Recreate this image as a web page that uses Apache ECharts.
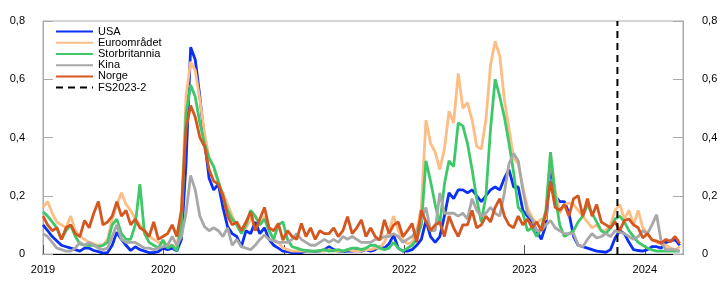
<!DOCTYPE html>
<html>
<head>
<meta charset="utf-8">
<script src="https://cdn.jsdelivr.net/npm/echarts@6/dist/echarts.min.js"></script>
<style>
html,body{margin:0;padding:0;background:#fff;}
#chart{width:722px;height:287px;}
</style>
</head>
<body>
<div id="chart"></div>
<script>
// Biweekly observations starting 2019-01-01
const startDate = [2019, 0, 1];
const stepDays = 14;
const fsDate = [2023, 9, 10];
const seriesNames = ['USA', 'Euroområdet', 'Storbritannia', 'Kina', 'Norge'];
const yTicks = [0, 0.2, 0.4, 0.6, 0.8];

const usa = [
0.10,0.08,0.06,0.045,0.03,0.025,0.02,0.015,0.01,0.02,0.02,0.012,0.008,0.003,0.005,0.03,0.075,0.05,0.03,0.012,0.025,0.015,0.01,0.005,0.005,0.008,
0.02,0.015,0.02,0.01,0.05,0.31,0.71,0.667,0.54,0.39,0.26,0.22,0.24,0.16,0.094,0.07,0.06,0.025,0.08,0.07,0.11,0.07,0.09,0.05,0.03,0.02,
0.01,0.008,0.005,0.004,0.005,0.01,0.01,0.008,0.01,0.015,0.025,0.015,0.01,0.008,0.01,0.01,0.012,0.01,0.015,0.01,0.015,0.025,0.02,0.035,0.065,0.02,
0.01,0.01,0.015,0.03,0.05,0.115,0.06,0.04,0.06,0.13,0.21,0.19,0.22,0.22,0.21,0.22,0.20,0.18,0.20,0.22,0.23,0.22,0.26,0.29,0.23,0.23,
0.15,0.13,0.11,0.08,0.05,0.10,0.31,0.20,0.18,0.18,0.14,0.06,0.03,0.025,0.02,0.015,0.01,0.008,0.006,0.015,0.055,0.08,0.07,0.04,0.015,0.012,
0.01,0.015,0.025,0.025,0.02,0.04,0.045,0.05,0.03
];
const euro = [
0.16,0.18,0.14,0.11,0.10,0.09,0.13,0.08,0.06,0.05,0.04,0.035,0.03,0.03,0.05,0.12,0.17,0.21,0.17,0.15,0.12,0.10,0.08,0.06,0.05,0.04,
0.037,0.03,0.03,0.02,0.15,0.54,0.66,0.63,0.53,0.415,0.33,0.30,0.24,0.21,0.17,0.13,0.10,0.08,0.09,0.12,0.13,0.10,0.13,0.08,0.05,0.04,
0.02,0.015,0.01,0.01,0.01,0.01,0.01,0.01,0.01,0.01,0.015,0.01,0.01,0.01,0.015,0.012,0.01,0.012,0.015,0.015,0.02,0.02,0.04,0.08,0.13,0.08,
0.05,0.035,0.04,0.08,0.16,0.46,0.38,0.35,0.29,0.36,0.49,0.45,0.62,0.50,0.52,0.46,0.37,0.36,0.46,0.65,0.73,0.68,0.53,0.43,0.33,0.31,
0.23,0.16,0.125,0.105,0.12,0.12,0.34,0.22,0.14,0.17,0.175,0.17,0.15,0.13,0.11,0.09,0.10,0.08,0.08,0.10,0.15,0.17,0.12,0.15,0.10,0.15,
0.09,0.07,0.05,0.04,0.035,0.03,0.02,0.014,0.025
];
const uk = [
0.145,0.13,0.11,0.09,0.05,0.08,0.10,0.06,0.035,0.03,0.03,0.03,0.025,0.03,0.04,0.10,0.12,0.07,0.05,0.05,0.10,0.24,0.07,0.04,0.03,0.02,
0.048,0.02,0.03,0.01,0.10,0.48,0.58,0.54,0.45,0.38,0.33,0.30,0.25,0.20,0.15,0.12,0.10,0.07,0.10,0.15,0.13,0.10,0.12,0.08,0.05,0.10,
0.11,0.05,0.025,0.02,0.015,0.012,0.01,0.01,0.012,0.015,0.01,0.012,0.015,0.01,0.015,0.02,0.02,0.015,0.02,0.03,0.03,0.02,0.015,0.02,0.04,0.02,
0.01,0.02,0.03,0.05,0.10,0.32,0.25,0.17,0.10,0.24,0.32,0.30,0.45,0.44,0.38,0.29,0.19,0.11,0.20,0.43,0.60,0.54,0.47,0.38,0.28,0.16,
0.14,0.08,0.09,0.06,0.09,0.15,0.35,0.20,0.10,0.06,0.07,0.08,0.11,0.13,0.17,0.14,0.11,0.08,0.07,0.09,0.12,0.13,0.11,0.08,0.06,0.04,
0.03,0.02,0.014,0.01,0.01,0.01,0.01,0.01,0.01
];
const china = [
0.07,0.06,0.04,0.02,0.015,0.01,0.01,0.02,0.04,0.03,0.04,0.03,0.02,0.015,0.02,0.06,0.10,0.05,0.04,0.04,0.04,0.03,0.02,0.02,0.015,0.02,
0.025,0.03,0.06,0.03,0.06,0.14,0.27,0.22,0.13,0.094,0.08,0.09,0.08,0.06,0.09,0.03,0.05,0.025,0.02,0.015,0.03,0.05,0.065,0.05,0.045,0.04,
0.04,0.04,0.05,0.07,0.05,0.04,0.03,0.03,0.04,0.05,0.04,0.05,0.04,0.06,0.05,0.06,0.05,0.04,0.04,0.04,0.05,0.05,0.06,0.06,0.07,0.06,
0.04,0.05,0.06,0.08,0.12,0.16,0.08,0.08,0.21,0.14,0.14,0.14,0.13,0.14,0.12,0.19,0.15,0.13,0.14,0.16,0.14,0.13,0.21,0.31,0.345,0.32,
0.22,0.14,0.12,0.08,0.08,0.10,0.115,0.09,0.08,0.07,0.07,0.07,0.03,0.025,0.05,0.07,0.055,0.06,0.07,0.06,0.08,0.075,0.07,0.06,0.05,0.06,
0.08,0.07,0.10,0.135,0.04,0.015,0.015,0.015,0.01
];
const norway = [
0.13,0.10,0.08,0.09,0.05,0.09,0.10,0.07,0.06,0.115,0.09,0.14,0.18,0.10,0.11,0.13,0.18,0.13,0.15,0.10,0.12,0.09,0.08,0.06,0.11,0.05,
0.06,0.07,0.10,0.06,0.15,0.43,0.51,0.47,0.40,0.37,0.29,0.25,0.24,0.20,0.13,0.10,0.11,0.08,0.11,0.145,0.08,0.12,0.16,0.09,0.08,0.105,
0.048,0.08,0.06,0.05,0.105,0.06,0.09,0.05,0.08,0.07,0.07,0.09,0.06,0.08,0.128,0.07,0.09,0.117,0.06,0.09,0.06,0.048,0.117,0.07,0.10,0.11,
0.06,0.08,0.105,0.04,0.15,0.11,0.08,0.10,0.11,0.06,0.13,0.09,0.06,0.10,0.10,0.15,0.09,0.10,0.13,0.11,0.16,0.19,0.13,0.10,0.09,0.13,
0.10,0.12,0.09,0.11,0.08,0.14,0.25,0.16,0.15,0.17,0.13,0.19,0.20,0.13,0.19,0.13,0.17,0.11,0.10,0.09,0.11,0.08,0.115,0.12,0.10,0.09,
0.055,0.07,0.048,0.045,0.037,0.05,0.042,0.06,0.037
];

const colors = ['#0a2ff5', '#fdbd84', '#3ec86a', '#a8a8a8', '#d5561f'];
const allValues = [usa, euro, uk, china, norway];

const dates = usa.map((_, i) => new Date(startDate[0], startDate[1], startDate[2] + i * stepDays).getTime());
const fsTime = new Date(fsDate[0], fsDate[1], fsDate[2]).getTime();

const fmtY = v => (v === 0 ? '0' : v.toFixed(1).replace('.', ','));

const series = seriesNames.map((name, k) => ({
  name: name,
  type: 'line',
  data: dates.map((d, i) => [d, allValues[k][i]]),
  symbol: 'none',
  lineStyle: { color: colors[k], width: 2.8 },
  itemStyle: { color: colors[k] },
  z: 2 + k
}));
series.push({
  name: 'FS2023-2',
  type: 'line',
  data: [[fsTime, yTicks[0]], [fsTime, yTicks[yTicks.length - 1]]],
  symbol: 'none',
  lineStyle: { color: '#000', width: 2, type: [7, 5] },
  itemStyle: { color: '#000' },
  z: 10
});

const chart = echarts.init(document.getElementById('chart'), null, { renderer: 'canvas' });
const yAxisBase = {
  type: 'value',
  min: 0,
  max: 0.8,
  interval: 0.2,
  axisLine: { show: true, lineStyle: { color: '#aaa', width: 1 } },
  axisTick: { show: true, inside: true, length: 10, lineStyle: { color: '#aaa' } },
  splitLine: { show: false },
  axisLabel: { formatter: fmtY, color: '#000', fontSize: 11, fontFamily: 'Liberation Sans' }
};
chart.setOption({
  animation: false,
  textStyle: { fontFamily: 'Liberation Sans' },
  grid: { left: 43, right: 39, top: 21, bottom: 33, show: true, borderColor: '#aaa', borderWidth: 1, containLabel: false },
  legend: {
    orient: 'vertical',
    left: 55,
    top: 26,
    padding: 0,
    itemWidth: 37,
    itemHeight: 14,
    itemGap: 0,
    itemStyle: { opacity: 0, borderWidth: 0 },
    textStyle: { fontSize: 11, color: '#000', fontFamily: 'Liberation Sans' },
    data: seriesNames.concat(['FS2023-2'])
  },
  xAxis: {
    type: 'time',
    min: new Date(2019, 0, 1).getTime(),
    max: new Date(2024, 3, 26).getTime(),
    minInterval: 365 * 86400000,
    maxInterval: 366 * 86400000,
    axisLine: { show: true, lineStyle: { color: '#000', width: 1 } },
    axisTick: { show: true, inside: true, length: 9, lineStyle: { color: '#555' } },
    splitLine: { show: false },
    axisLabel: {
      color: '#000', fontSize: 11, margin: 10, fontFamily: 'Liberation Sans',
      showMaxLabel: false,
      formatter: function (v) {
        const d = new Date(v);
        return (d.getMonth() === 0 && d.getDate() === 1) ? String(d.getFullYear()) : '';
      }
    }
  },
  yAxis: [
    Object.assign({}, yAxisBase, { position: 'left', axisLabel: Object.assign({}, yAxisBase.axisLabel, { margin: 18 }) }),
    Object.assign({}, yAxisBase, { position: 'right', axisLabel: Object.assign({}, yAxisBase.axisLabel, { margin: 19 }) })
  ],
  series: series
});
</script>
</body>
</html>
